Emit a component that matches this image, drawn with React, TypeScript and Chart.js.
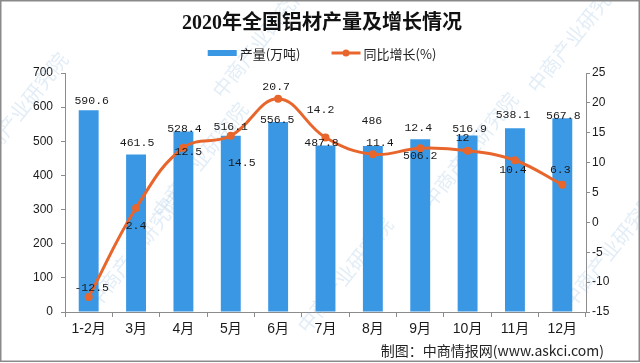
import React, { useEffect, useRef } from "react";
import { Chart, registerables } from "chart.js";

Chart.register(...registerables);

const titleText = "2020年全国铝材产量及增长情况";
const sourceText = "制图：中商情报网(www.askci.com)";
const watermarkText = "中商产业研究院";
const categories = ["1-2月", "3月", "4月", "5月", "6月", "7月", "8月", "9月", "10月", "11月", "12月"];
const productionLabel = "产量(万吨)";
const growthLabel = "同比增长(%)";
const production = [590.6, 461.5, 528.4, 516.1, 556.5, 487.8, 486, 506.2, 516.9, 538.1, 567.8];
const growth = [-12.5, 2.4, 12.5, 14.5, 20.7, 14.2, 11.4, 12.4, 12, 10.4, 6.3];
const leftAxis = { min: 0, max: 700, step: 100 };
const rightAxis = { min: -15, max: 25, step: 5 };

// label placement tweaks (pixels, relative to the mark)
const barLabelDy = [-9, -11, -3, -9, -2, -2, -25, 17, -7, -13, -2];
const barLabelDx = [3, 1, 1, 0, -1, -4, -1, 0, 2, -2, 1];
const lineLabelDy = [-9, 18, 4, 27, -12, -28, -11, -20, -13, 10, -15];
const lineLabelDx = [3, 0, 5, 11, -2, -5, 7, -2, -5, -2, -2];

// decorative watermark anchor points (background decoration)
const watermarkSpots = [
  [135, 250], [260, 40], [345, 275], [470, 150], [575, 35], [610, 250], [20, 110], [200, 160],
];

const BAR_COLOR = "#3a97e4";
const LINE_COLOR = "#e8662c";
const AXIS_COLOR = "#8c8c8c";
const TEXT_COLOR = "#1a1a1a";
const LABEL_FONT = '11.5px "Liberation Mono", "DejaVu Sans Mono", monospace';
const CJK = '"Noto Sans CJK SC", "Noto Sans", sans-serif';

const decorPlugin = {
  id: "decor",
  beforeDatasetsDraw(chart: any) {
    const ctx = chart.ctx as CanvasRenderingContext2D;
    ctx.save();
    ctx.font = `20px ${CJK}`;
    ctx.fillStyle = "rgba(150, 190, 228, 0.28)";
    ctx.textAlign = "center";
    ctx.textBaseline = "middle";
    watermarkSpots.forEach(([x, y]) => {
      ctx.save();
      ctx.translate(x, y);
      ctx.rotate(-0.9);
      ctx.fillText(watermarkText, 0, 0);
      ctx.restore();
    });
    ctx.restore();
  },
  afterDatasetsDraw(chart: any) {
    const ctx = chart.ctx as CanvasRenderingContext2D;
    ctx.save();
    ctx.font = LABEL_FONT;
    ctx.fillStyle = TEXT_COLOR;
    ctx.textAlign = "center";
    ctx.textBaseline = "middle";
    const barMeta = chart.getDatasetMeta(0);
    barMeta.data.forEach((el: any, i: number) => {
      ctx.fillText(String(production[i]), el.x + barLabelDx[i], el.y + barLabelDy[i]);
    });
    const lineMeta = chart.getDatasetMeta(1);
    lineMeta.data.forEach((el: any, i: number) => {
      ctx.fillText(String(growth[i]), el.x + lineLabelDx[i], el.y + lineLabelDy[i]);
    });
    ctx.restore();
  },
  afterDraw(chart: any) {
    const ctx = chart.ctx as CanvasRenderingContext2D;
    const W = chart.width;
    const H = chart.height;
    const cx = 322;
    ctx.save();
    // border
    ctx.strokeStyle = "#8a8a8a";
    ctx.lineWidth = 1.5;
    ctx.strokeRect(0.75, 0.75, W - 1.5, H - 2.5);

    // title
    ctx.fillStyle = "#111";
    ctx.font = `bold 20px "Liberation Serif", ${CJK}`;
    ctx.textAlign = "center";
    ctx.textBaseline = "middle";
    ctx.fillText(titleText, cx, 24);

    // legend
    ctx.font = `13px ${CJK}`;
    ctx.textAlign = "left";
    const t1 = ctx.measureText(productionLabel).width;
    const t2 = ctx.measureText(growthLabel).width;
    const boxW = 29;
    const gap = 3;
    const spacing = 31;
    const total = boxW + gap + t1 + spacing + boxW + gap + t2;
    let x = cx - total / 2;
    const ly = 53;
    ctx.fillStyle = BAR_COLOR;
    ctx.fillRect(x, ly - 3, boxW, 6);
    x += boxW + gap;
    ctx.fillStyle = "#222";
    ctx.fillText(productionLabel, x, ly + 1);
    x += t1 + spacing;
    ctx.strokeStyle = LINE_COLOR;
    ctx.lineWidth = 3;
    ctx.beginPath();
    ctx.moveTo(x, ly);
    ctx.lineTo(x + boxW, ly);
    ctx.stroke();
    ctx.fillStyle = LINE_COLOR;
    ctx.beginPath();
    ctx.arc(x + boxW / 2, ly, 3.5, 0, Math.PI * 2);
    ctx.fill();
    x += boxW + gap;
    ctx.fillStyle = "#222";
    ctx.fillText(growthLabel, x, ly + 1);

    // source
    ctx.font = `14px ${CJK}`;
    ctx.textAlign = "right";
    ctx.fillStyle = "#222";
    ctx.fillText(sourceText, 604, 351);
    ctx.restore();
  },
};

export default function App() {
  const ref = useRef<HTMLCanvasElement>(null);
  useEffect(() => {
    document.body.style.margin = "0";
    const canvas = ref.current!;
    const chart = new Chart(canvas, {
      type: "bar",
      data: {
        labels: categories,
        datasets: [
          {
            type: "bar",
            label: productionLabel,
            data: production,
            backgroundColor: BAR_COLOR,
            yAxisID: "y",
            order: 2,
            barPercentage: 0.42,
            categoryPercentage: 1,
          },
          {
            type: "line",
            label: growthLabel,
            data: growth,
            borderColor: LINE_COLOR,
            backgroundColor: LINE_COLOR,
            borderWidth: 3,
            pointRadius: 4,
            pointBackgroundColor: LINE_COLOR,
            pointBorderWidth: 0,
            tension: 0.4,
            yAxisID: "y1",
            order: 1,
          } as any,
        ],
      },
      options: {
        responsive: false,
        animation: false,
        events: [],
        layout: { padding: { top: 73, bottom: 0, left: 0, right: 0 } },
        plugins: {
          legend: { display: false },
          title: { display: false },
          tooltip: { enabled: false },
        },
        scales: {
          x: {
            offset: true,
            afterFit: (s: any) => {
              s.height = 51;
            },
            grid: {
              offset: true,
              drawOnChartArea: false,
              drawTicks: true,
              tickLength: 5,
              color: AXIS_COLOR,
            },
            border: { color: AXIS_COLOR, width: 1 },
            ticks: {
              color: TEXT_COLOR,
              padding: 4,
              font: { size: 14, family: `"Liberation Sans", ${CJK}` },
              maxRotation: 0,
              autoSkip: false,
            },
          },
          y: {
            position: "left",
            min: leftAxis.min,
            max: leftAxis.max,
            afterFit: (s: any) => {
              s.width = 65;
            },
            grid: { drawOnChartArea: false, tickLength: 4, color: AXIS_COLOR },
            border: { color: AXIS_COLOR, width: 1 },
            ticks: {
              stepSize: leftAxis.step,
              padding: 8,
              color: TEXT_COLOR,
              font: { size: 12, family: '"Liberation Sans", sans-serif' },
            },
          },
          y1: {
            position: "right",
            min: rightAxis.min,
            max: rightAxis.max,
            afterFit: (s: any) => {
              s.width = 54;
            },
            grid: { drawOnChartArea: false, tickLength: 4, color: AXIS_COLOR },
            border: { color: AXIS_COLOR, width: 1 },
            ticks: {
              stepSize: rightAxis.step,
              padding: 2,
              color: TEXT_COLOR,
              font: { size: 12, family: '"Liberation Sans", sans-serif' },
            },
          },
        },
      },
      plugins: [decorPlugin],
    });
    return () => chart.destroy();
  }, []);
  return (
    <div style={{ width: 640, height: 363, background: "#fff" }}>
      <canvas ref={ref} width={640} height={363} />
    </div>
  );
}
